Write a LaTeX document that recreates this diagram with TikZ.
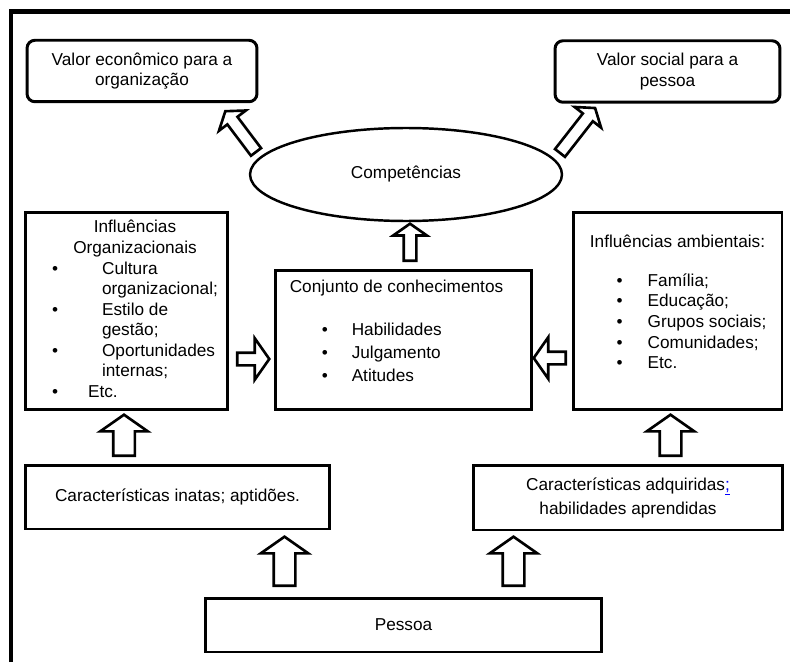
\documentclass[tikz,border=0pt]{standalone}
\usepackage{fontspec}
\setmainfont{Liberation Sans}
\usepackage{xcolor}
\usepackage{tikz}
\usetikzlibrary{shapes.geometric,shapes.arrows}

\newcommand{\itemdot}[1]{\makebox[#1][l]{\textbullet}}

\tikzset{
	box/.style={draw, line width=1.7pt, inner sep=0pt, align=center,
		font=\fontsize{9.8}{11.7}\selectfont},
	roundbox/.style={box, rounded corners=0.16cm, minimum height=1.23cm},
	blockarrow/.style={single arrow, draw, line width=1.5pt, fill=white,
		inner xsep=0pt, single arrow tip angle=110, single arrow head indent=0pt,
		anchor=tail},
	smallarrow/.style={blockarrow, inner ysep=0.1cm, single arrow head extend=0.21cm},
	sidearrow/.style={blockarrow, inner ysep=0.1cm, single arrow head extend=0.29cm},
	bigarrow/.style={blockarrow, inner ysep=0.19cm, single arrow head extend=0.26cm}
}

\begin{document}
\begin{tikzpicture}[x=0.02cm, y=-0.02cm]
	\useasboundingbox (0,0) rectangle (790,662);
	% moldura
	\draw[line width=2.6pt] (10.8,662) -- (10.8,11.3) -- (790,11.3);

	\node (eco) at(142,71)[roundbox, minimum width=4.6cm]{Valor econômico para a\\organização};
	\node (soc) at(667.5,71.5)[roundbox, minimum width=4.5cm]{Valor social para a\\pessoa};
	\node (comp) at(406,174.5)[box, ellipse, line width=1.4pt, minimum width=6.24cm, minimum height=1.86cm]{Competências};

	\node (orginf) at(126.5,311)[box, minimum width=4.06cm, minimum height=3.96cm]{%
		\begin{tabular}{@{\hspace{0.34cm}}l@{}l@{}}
			\multicolumn{2}{@{\hspace{0.34cm}}c@{}}{Influências}\\
			\multicolumn{2}{@{\hspace{0.34cm}}c@{}}{Organizacionais}\\
			\itemdot{1.0cm} & Cultura\\
			 & organizacional;\\
			\itemdot{1.0cm} & Estilo de\\
			 & gestão;\\
			\itemdot{1.0cm} & Oportunidades\\
			 & internas;\\
			\multicolumn{2}{@{\hspace{0.34cm}}l@{}}{\itemdot{0.72cm}Etc.}
		\end{tabular}};

	\node (conj) at(403.5,340)[box, minimum width=5.14cm, minimum height=2.8cm, font=\fontsize{9.8}{13.1}\selectfont]{%
		\begin{tabular}{@{\hspace{0.64cm}}l@{}l@{}}
			\multicolumn{2}{@{}l@{\hspace{0.28cm}}}{Conjunto de conhecimentos}\\[11.4pt]
			\itemdot{0.6cm} & Habilidades\\
			\itemdot{0.6cm} & Julgamento\\
			\itemdot{0.6cm} & Atitudes\\[8.3pt]
		\end{tabular}};

	\node (amb) at(677.5,311)[box, minimum width=4.18cm, minimum height=3.96cm]{%
		\begin{tabular}{@{\hspace{0.56cm}}l@{}l@{}}
			\multicolumn{2}{@{}c@{}}{Influências ambientais:}\\[10.5pt]
			\itemdot{0.62cm} & Família;\\
			\itemdot{0.62cm} & Educação;\\
			\itemdot{0.62cm} & Grupos sociais;\\
			\itemdot{0.62cm} & Comunidades;\\
			\itemdot{0.62cm} & Etc.\\[8.1pt]
		\end{tabular}};

	\node (inatas) at(177.5,497)[box, minimum width=6.1cm, minimum height=1.28cm]{Características inatas; aptidões.};
	\node (adq) at(628,497.5)[box, minimum width=6.2cm, minimum height=1.3cm]{Características adquiridas\textcolor{blue}{\underline{;}}\\[2pt]habilidades aprendidas};
	\node (pessoa) at(403.5,625)[box, minimum width=7.94cm, minimum height=1.08cm]{Pessoa};

	% setas
	\node (ecoarrow) at([shift={(8,-21.5)}]comp.west)[smallarrow, rotate=127, minimum height=1.02cm]{};
	\node (socarrow) at([shift={(-4,-20.5)}]comp.east)[smallarrow, rotate=52, minimum height=1.14cm]{};
	\node (comparrow) at([shift={(6.5,-6.5)}]conj.north)[smallarrow, rotate=90, minimum height=0.74cm]{};
	\node (orgarrow) at([shift={(6.5,48)}]orginf.east)[sidearrow, minimum height=0.64cm]{};
	\node (ambarrow) at([shift={(-4.5,47)}]amb.west)[sidearrow, rotate=180, minimum height=0.64cm]{};
	\node (inatasarrow) at([shift={(-53.5,-6.5)}]inatas.north)[bigarrow, rotate=90, minimum height=0.82cm]{};
	\node (adqarrow) at([shift={(42.5,-6.5)}]adq.north)[bigarrow, rotate=90, minimum height=0.82cm]{};
	\node (pessoalarrow) at([shift={(-119,-9.5)}]pessoa.north)[bigarrow, rotate=90, minimum height=0.98cm]{};
	\node (pessoararrow) at([shift={(110,-9.5)}]pessoa.north)[bigarrow, rotate=90, minimum height=0.98cm]{};
\end{tikzpicture}
\end{document}
